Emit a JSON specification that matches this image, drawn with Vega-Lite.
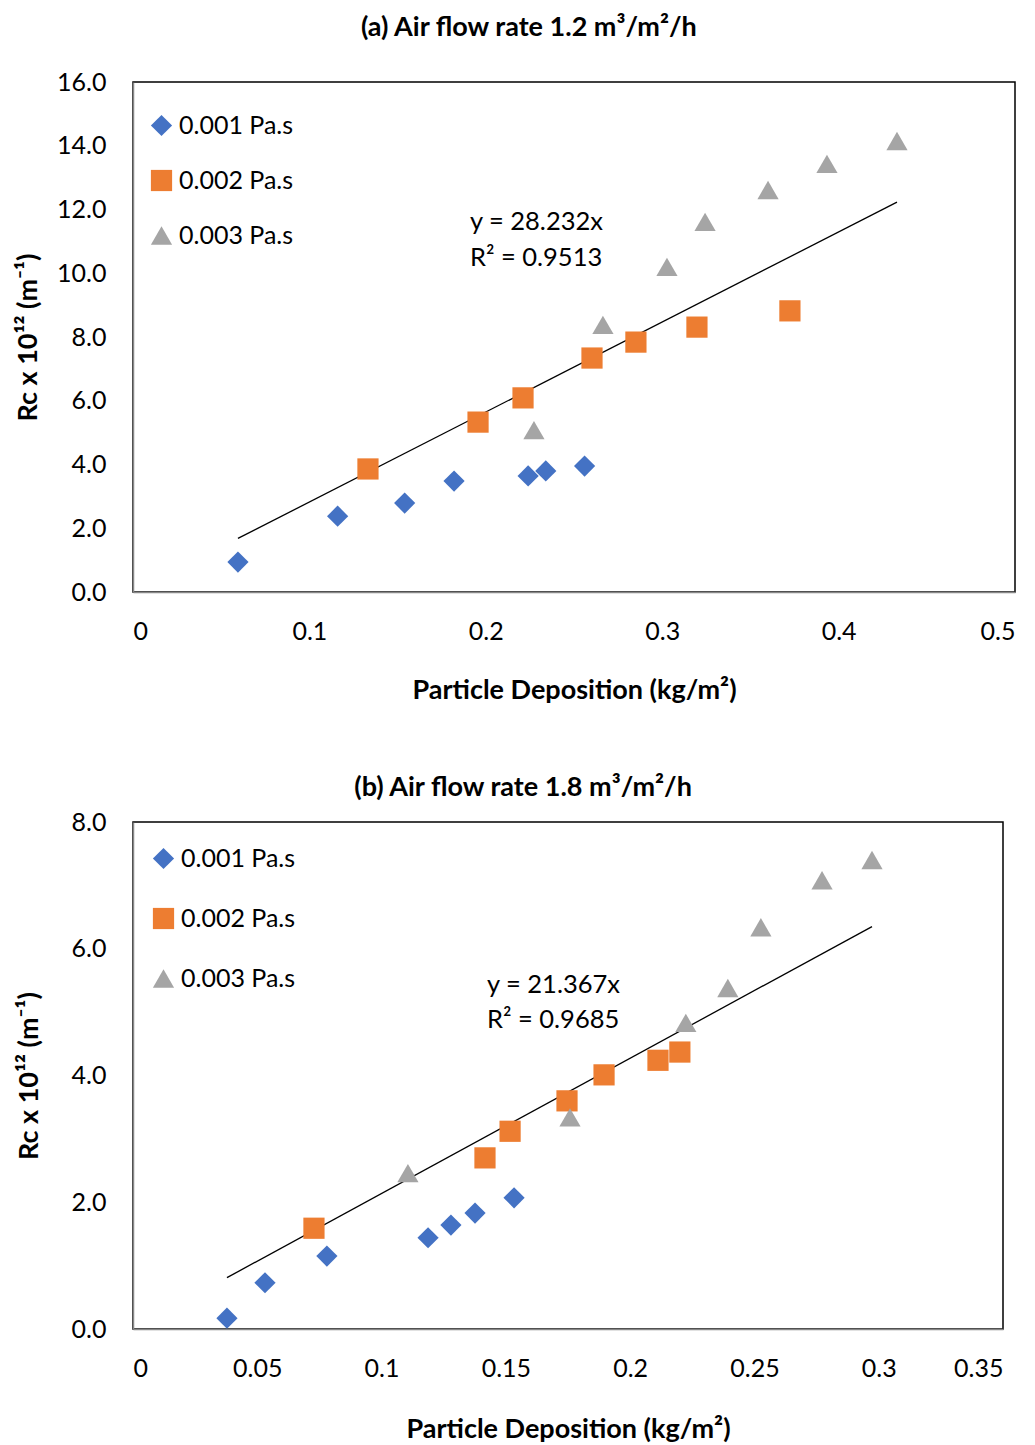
{
  "$schema": "https://vega.github.io/schema/vega-lite/v6.json",
  "background": "white",
  "padding": {"left": 13, "top": 13, "right": 10, "bottom": 0},
  "config": {
    "font": "Lato",
    "view": {"stroke": "#000000", "strokeWidth": 1.5},
    "axis": {"grid": false, "ticks": false, "domainColor": "#888888", "domainWidth": 1.5, "labelFontSize": 25, "labelColor": "#000000", "titleFontSize": 27, "titleColor": "#000000", "titleFontWeight": "bold", "labelPadding": 27},
    "title": {"fontSize": 27, "fontWeight": "bold", "color": "#000000", "frame": "bounds", "anchor": "middle", "dx": 14},
    "legend": {"labelFontSize": 25, "labelColor": "#000000", "symbolSize": 450, "symbolStrokeWidth": 0, "labelOffset": 5, "title": null}
  },
  "datasets": {
    "a_points": [
      {"deposition": 0.0595, "rc": 0.94, "viscosity": "0.001 Pa.s"},
      {"deposition": 0.116, "rc": 2.38, "viscosity": "0.001 Pa.s"},
      {"deposition": 0.154, "rc": 2.79, "viscosity": "0.001 Pa.s"},
      {"deposition": 0.182, "rc": 3.48, "viscosity": "0.001 Pa.s"},
      {"deposition": 0.224, "rc": 3.64, "viscosity": "0.001 Pa.s"},
      {"deposition": 0.234, "rc": 3.80, "viscosity": "0.001 Pa.s"},
      {"deposition": 0.256, "rc": 3.95, "viscosity": "0.001 Pa.s"},
      {"deposition": 0.1332, "rc": 3.86, "viscosity": "0.002 Pa.s"},
      {"deposition": 0.1956, "rc": 5.33, "viscosity": "0.002 Pa.s"},
      {"deposition": 0.2211, "rc": 6.09, "viscosity": "0.002 Pa.s"},
      {"deposition": 0.2602, "rc": 7.34, "viscosity": "0.002 Pa.s"},
      {"deposition": 0.2851, "rc": 7.84, "viscosity": "0.002 Pa.s"},
      {"deposition": 0.3197, "rc": 8.31, "viscosity": "0.002 Pa.s"},
      {"deposition": 0.3724, "rc": 8.82, "viscosity": "0.002 Pa.s"},
      {"deposition": 0.2273, "rc": 5.08, "viscosity": "0.003 Pa.s"},
      {"deposition": 0.2664, "rc": 8.38, "viscosity": "0.003 Pa.s"},
      {"deposition": 0.3027, "rc": 10.20, "viscosity": "0.003 Pa.s"},
      {"deposition": 0.3243, "rc": 11.61, "viscosity": "0.003 Pa.s"},
      {"deposition": 0.3600, "rc": 12.61, "viscosity": "0.003 Pa.s"},
      {"deposition": 0.3934, "rc": 13.43, "viscosity": "0.003 Pa.s"},
      {"deposition": 0.4331, "rc": 14.15, "viscosity": "0.003 Pa.s"}
    ],
    "a_trend": [
      {"deposition": 0.0595, "rc": 1.68},
      {"deposition": 0.4331, "rc": 12.23}
    ],
    "a_eq": [
      {"deposition": 0.191, "rc": 11.6, "label": "y = 28.232x"},
      {"deposition": 0.191, "rc": 10.48, "label": "R² = 0.9513"}
    ],
    "b_points": [
      {"deposition": 0.0378, "rc": 0.17, "viscosity": "0.001 Pa.s"},
      {"deposition": 0.0531, "rc": 0.73, "viscosity": "0.001 Pa.s"},
      {"deposition": 0.0780, "rc": 1.15, "viscosity": "0.001 Pa.s"},
      {"deposition": 0.1187, "rc": 1.44, "viscosity": "0.001 Pa.s"},
      {"deposition": 0.1279, "rc": 1.64, "viscosity": "0.001 Pa.s"},
      {"deposition": 0.1376, "rc": 1.83, "viscosity": "0.001 Pa.s"},
      {"deposition": 0.1533, "rc": 2.07, "viscosity": "0.001 Pa.s"},
      {"deposition": 0.0728, "rc": 1.59, "viscosity": "0.002 Pa.s"},
      {"deposition": 0.1416, "rc": 2.70, "viscosity": "0.002 Pa.s"},
      {"deposition": 0.1517, "rc": 3.12, "viscosity": "0.002 Pa.s"},
      {"deposition": 0.1746, "rc": 3.60, "viscosity": "0.002 Pa.s"},
      {"deposition": 0.1895, "rc": 4.01, "viscosity": "0.002 Pa.s"},
      {"deposition": 0.2112, "rc": 4.24, "viscosity": "0.002 Pa.s"},
      {"deposition": 0.2200, "rc": 4.37, "viscosity": "0.002 Pa.s"},
      {"deposition": 0.1106, "rc": 2.46, "viscosity": "0.003 Pa.s"},
      {"deposition": 0.1758, "rc": 3.34, "viscosity": "0.003 Pa.s"},
      {"deposition": 0.2224, "rc": 4.83, "viscosity": "0.003 Pa.s"},
      {"deposition": 0.2393, "rc": 5.38, "viscosity": "0.003 Pa.s"},
      {"deposition": 0.2526, "rc": 6.34, "viscosity": "0.003 Pa.s"},
      {"deposition": 0.2772, "rc": 7.08, "viscosity": "0.003 Pa.s"},
      {"deposition": 0.2973, "rc": 7.40, "viscosity": "0.003 Pa.s"}
    ],
    "b_trend": [
      {"deposition": 0.0378, "rc": 0.81},
      {"deposition": 0.2973, "rc": 6.35}
    ],
    "b_eq": [
      {"deposition": 0.1424, "rc": 5.43, "label": "y = 21.367x"},
      {"deposition": 0.1424, "rc": 4.87, "label": "R² = 0.9685"}
    ]
  },
  "spacing": 69,
  "resolve": {
    "scale": {"x": "independent", "y": "independent", "color": "independent", "shape": "independent"},
    "legend": {"color": "independent", "shape": "independent"}
  },
  "vconcat": [
    {
      "title": {"text": "(a) Air flow rate 1.2 m³/m²/h", "offset": 28},
      "width": 882,
      "height": 510,
      "layer": [
        {
          "data": {"name": "a_trend"},
          "mark": {"type": "line", "color": "#000000", "strokeWidth": 1.3},
          "encoding": {
            "x": {"field": "deposition", "type": "quantitative", "scale": {"domain": [0, 0.5]}},
            "y": {"field": "rc", "type": "quantitative", "scale": {"domain": [0, 16]}}
          }
        },
        {
          "data": {"name": "a_points"},
          "mark": {"type": "point", "filled": true, "opacity": 1, "size": 450},
          "encoding": {
            "x": {"field": "deposition", "type": "quantitative", "scale": {"domain": [0, 0.5]}, "axis": {"values": [0, 0.1, 0.2, 0.3, 0.4, 0.5], "format": "~g", "title": "Particle Deposition (kg/m²)", "labelPadding": 27, "titlePadding": 33}},
            "y": {"field": "rc", "type": "quantitative", "scale": {"domain": [0, 16]}, "axis": {"values": [0, 2, 4, 6, 8, 10, 12, 14, 16], "format": ".1f", "title": "Rc x 10¹² (m⁻¹)", "titlePadding": 14}},
            "color": {"field": "viscosity", "type": "nominal", "scale": {"domain": ["0.001 Pa.s", "0.002 Pa.s", "0.003 Pa.s"], "range": ["#4472C4", "#ED7D31", "#A5A5A5"]}, "legend": {"orient": "none", "legendX": 16, "legendY": 31, "rowPadding": 29}},
            "shape": {"field": "viscosity", "type": "nominal", "scale": {"domain": ["0.001 Pa.s", "0.002 Pa.s", "0.003 Pa.s"], "range": ["diamond", "square", "triangle-up"]}, "legend": {"orient": "none", "legendX": 16, "legendY": 31, "rowPadding": 29}}
          }
        },
        {
          "data": {"name": "a_eq"},
          "mark": {"type": "text", "align": "left", "baseline": "middle", "fontSize": 25.5, "color": "#000000"},
          "encoding": {
            "x": {"field": "deposition", "type": "quantitative", "scale": {"domain": [0, 0.5]}},
            "y": {"field": "rc", "type": "quantitative", "scale": {"domain": [0, 16]}},
            "text": {"field": "label", "type": "nominal"}
          }
        }
      ]
    },
    {
      "title": {"text": "(b) Air flow rate 1.8 m³/m²/h", "offset": 8},
      "width": 870,
      "height": 507,
      "layer": [
        {
          "data": {"name": "b_trend"},
          "mark": {"type": "line", "color": "#000000", "strokeWidth": 1.3},
          "encoding": {
            "x": {"field": "deposition", "type": "quantitative", "scale": {"domain": [0, 0.35]}},
            "y": {"field": "rc", "type": "quantitative", "scale": {"domain": [0, 8]}}
          }
        },
        {
          "data": {"name": "b_points"},
          "mark": {"type": "point", "filled": true, "opacity": 1, "size": 450},
          "encoding": {
            "x": {"field": "deposition", "type": "quantitative", "scale": {"domain": [0, 0.35]}, "axis": {"values": [0, 0.05, 0.1, 0.15, 0.2, 0.25, 0.3, 0.35], "format": "~g", "title": "Particle Deposition (kg/m²)", "labelPadding": 27, "titlePadding": 35}},
            "y": {"field": "rc", "type": "quantitative", "scale": {"domain": [0, 8]}, "axis": {"values": [0, 2, 4, 6, 8], "format": ".1f", "title": "Rc x 10¹² (m⁻¹)", "titlePadding": 28}},
            "color": {"field": "viscosity", "type": "nominal", "scale": {"domain": ["0.001 Pa.s", "0.002 Pa.s", "0.003 Pa.s"], "range": ["#4472C4", "#ED7D31", "#A5A5A5"]}, "legend": {"orient": "none", "legendX": 18, "legendY": 24, "rowPadding": 34}},
            "shape": {"field": "viscosity", "type": "nominal", "scale": {"domain": ["0.001 Pa.s", "0.002 Pa.s", "0.003 Pa.s"], "range": ["diamond", "square", "triangle-up"]}, "legend": {"orient": "none", "legendX": 18, "legendY": 24, "rowPadding": 34}}
          }
        },
        {
          "data": {"name": "b_eq"},
          "mark": {"type": "text", "align": "left", "baseline": "middle", "fontSize": 25.5, "color": "#000000"},
          "encoding": {
            "x": {"field": "deposition", "type": "quantitative", "scale": {"domain": [0, 0.35]}},
            "y": {"field": "rc", "type": "quantitative", "scale": {"domain": [0, 8]}},
            "text": {"field": "label", "type": "nominal"}
          }
        }
      ]
    }
  ]
}
